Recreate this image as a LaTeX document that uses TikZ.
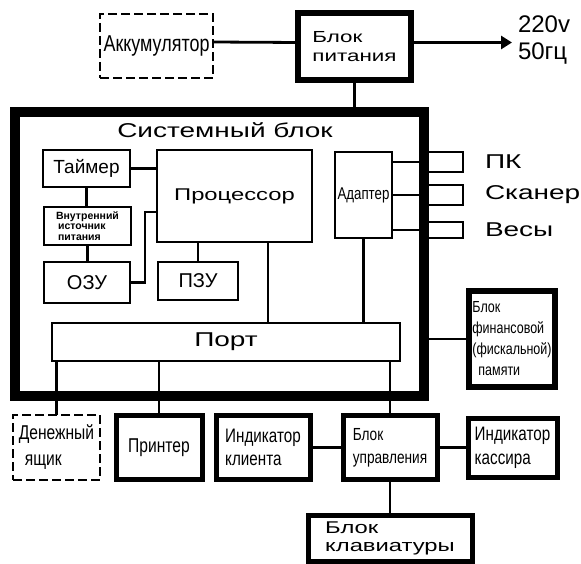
\documentclass[tikz,border=0pt]{standalone}
\usepackage{fontspec}
\setmainfont{Liberation Sans}
\newfontfamily\widefamily[FakeStretch=1.4]{Liberation Sans}
\newfontfamily\narrowfamily[FakeStretch=0.78]{Liberation Sans}
\newcommand{\fwide}[2]{\widefamily\fontsize{#1}{#2}\selectfont}
\newcommand{\fnarrow}[2]{\narrowfamily\fontsize{#1}{#2}\selectfont}
\newcommand{\fplain}[2]{\fontsize{#1}{#2}\selectfont}
\usetikzlibrary{arrows.meta, positioning}

\begin{document}
\begin{tikzpicture}[
    x=1pt, y=-1pt,
    >={Triangle[length=11pt, width=13pt]},
    % --- block styles ---
    thinbox/.style={
        draw=black, line width=2.2pt, inner sep=0pt, outer sep=0pt,
        align=center},
    heavybox/.style={
        draw=black, line width=5pt, inner sep=0pt, outer sep=0pt,
        align=left},
    dashbox/.style={
        draw=black, line width=2.6pt, dash pattern=on 9pt off 4pt,
        inner sep=0pt, outer sep=0pt, align=left},
    stubbox/.style={
        draw=black, line width=2.6pt, inner sep=0pt, outer sep=0pt,
        minimum width=39pt},
    lbl/.style={inner sep=0pt, outer sep=0pt, align=left},
    wire/.style={line width=2.8pt},
]
\useasboundingbox (0,0) rectangle (581,564);

% ===== POWER (top) =====
\node[dashbox, minimum width=113pt, minimum height=64pt,
      font=\fnarrow{23}{26}] (acc) at (156.5,46) {Аккумулятор};
\node[heavybox, line width=6pt, minimum width=113pt, minimum height=67pt,
      font=\fwide{16}{19}] (psu) at (354.5,46.5) {Блок\\питания};
\node[lbl, anchor=west, font=\fplain{24}{27}] (mains) at (518,40) {220v\\50гц};

% ===== SYSTEM BLOCK =====
\node[draw=black, line width=10pt, inner sep=0pt, outer sep=0pt,
      minimum width=409pt, minimum height=284pt] (sys) at (219.5,254) {};
\node[lbl, font=\fwide{20}{22}] (systitle) at (225,130) {Системный блок};

\node[thinbox, minimum width=87pt, minimum height=37pt,
      font=\fplain{19}{21}] (tmr) at (86.5,168.5) {Таймер};
\node[thinbox, minimum width=155pt, minimum height=92pt,
      font=\fwide{17}{19}] (proc) at (234.5,196) {Процессор};
\node[thinbox, minimum width=87pt, minimum height=38pt, align=left,
      font=\fplain{10.5}{10.5}\bfseries] (pwr) at (87.5,226)
      {Внутренний\\\hspace*{2pt}источник\\\hspace*{2pt}питания};
\node[thinbox, minimum width=86pt, minimum height=41pt,
      font=\fplain{20}{22}] (ram) at (87,282.5) {ОЗУ};
\node[thinbox, minimum width=80pt, minimum height=38pt,
      font=\fplain{20}{22}] (rom) at (198,281) {ПЗУ};
\node[thinbox, minimum width=57pt, minimum height=86pt,
      font=\fnarrow{17}{19}] (adp) at (363.5,195) {Адаптер};
\node[thinbox, line width=2.5pt, minimum width=348pt, minimum height=38pt,
      font=\fwide{20}{22}] (port) at (226,342) {Порт};

% ===== EXTERNAL PORTS (right) =====
\node[stubbox, minimum height=20pt] (pk) at (443.5,162) {};
\node[stubbox, minimum height=20pt] (scn) at (443.5,195) {};
\node[stubbox, minimum height=16pt] (scl) at (443.5,230) {};
\node[lbl, right=22pt of pk, font=\fwide{20}{22}] (pklbl) {ПК};
\node[lbl, right=22pt of scn, font=\fwide{20}{22}] (scnlbl) {Сканер};
\node[lbl, right=22pt of scl, font=\fwide{20}{22}] (scllbl) {Весы};

\node[heavybox, line width=6pt, minimum width=86pt, minimum height=96pt,
      font=\fnarrow{16}{21}] (fin) at (512,339)
      {Блок\\финансовой\\(фискальной)\\\hspace*{6pt}памяти};

% ===== PERIPHERALS (bottom) =====
\node[dashbox, minimum width=87pt, minimum height=65pt,
      font=\fnarrow{20}{26}] (cash) at (56.5,447.5)
      {Денежный\\\hspace*{6pt}ящик};
\node[heavybox, minimum width=86pt, minimum height=64pt,
      font=\fnarrow{20}{22}, right=16pt of cash] (prn) {Принтер};
\node[heavybox, minimum width=94pt, minimum height=64pt,
      font=\fnarrow{19.5}{23}, right=14pt of prn] (cind) {Индикатор\\клиента};
\node[heavybox, minimum width=94pt, minimum height=64pt,
      font=\fnarrow{17.5}{23}, right=33pt of cind] (ctl) {Блок\\управления};
\node[heavybox, minimum width=89pt, minimum height=59pt,
      font=\fnarrow{19.5}{24}, right=31pt of ctl] (kind) {Индикатор\\кассира};
\node[heavybox, minimum width=164pt, minimum height=46pt,
      font=\fwide{17}{18}, below=36pt of ctl] (kbd) {Блок\\клавиатуры};

% ===== WIRES — power =====
\draw[wire] ([yshift=4pt]acc.east) -- ([yshift=4pt]psu.west);
\draw[wire, ->, shorten >=6pt] ([yshift=4pt]psu.east) -- ([yshift=4pt]psu.east -| mains.west);
\draw[wire] (psu.south) -- (psu.south |- sys.north);

% ===== WIRES — inside system block =====
\draw[wire] (tmr.east) -- (tmr.east -| proc.west);
\draw[wire] (tmr.south) -- (tmr.south |- pwr.north);
\draw[wire] (pwr.south) -- (pwr.south |- ram.north);
\draw[wire] (ram.east) -- ++(15,0) |- ([yshift=-16pt]proc.west);
\draw[wire] (rom.north) -- (rom.north |- proc.south);
\draw[wire] ([xshift=33.5pt]proc.south) -- ([xshift=33.5pt]proc.south |- port.north);
\draw[wire] (adp.south) -- (adp.south |- port.north);
\foreach \s in {pk,scn,scl}{
    \draw[wire] (\s.west -| adp.east) -- (\s.west);
}

% ===== WIRES — peripherals =====
\draw[wire] (fin.west) -- (fin.west -| sys.east);
\foreach \p in {cash,prn,ctl}{
    \draw[wire] (\p.north) -- (\p.north |- port.south);
}
\draw[wire] (cind) -- (ctl);
\draw[wire] (ctl) -- (kind);
\draw[wire] (ctl) -- (kbd);

\end{tikzpicture}
\end{document}
